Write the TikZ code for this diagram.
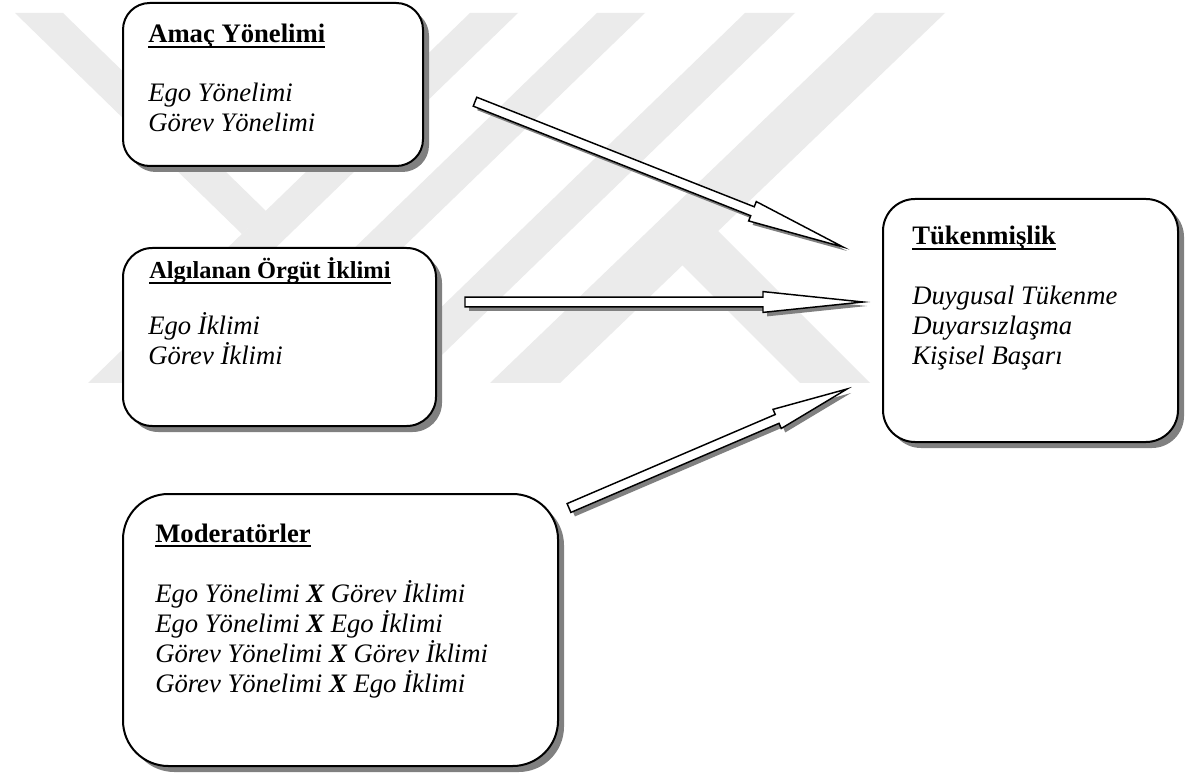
\documentclass[tikz,border=0pt]{standalone}
\usepackage{fontspec}
\setmainfont{Liberation Serif}
\usetikzlibrary{calc,shadows}

\definecolor{wmgray}{HTML}{EBEBEB}
\definecolor{shadowgray}{HTML}{808080}
\newcommand\undl[1]{\setbox0\hbox{#1}\rlap{\vrule height -2pt depth 3.4pt width \wd0}\box0}

\def\shaftw{3.6pt}
\def\headw{7.8pt}
\newcommand\blockarrow[3]{%
  \foreach \sty/\sh in {arrowshadow/3pt, arrowbody/0pt}
    \path[\sty, transform canvas={shift={(\sh,-\sh)}}]
      ($(#1)!\shaftw!90:(#2)$)
      -- ($(#2)!#3!(#1)!\shaftw!-90:(#1)$)
      -- ($(#2)!#3!(#1)!\headw!-90:(#1)$)
      -- (#2)
      -- ($(#2)!#3!(#1)!\headw!90:(#1)$)
      -- ($(#2)!#3!(#1)!\shaftw!90:(#1)$)
      -- ($(#1)!\shaftw!-90:(#2)$) -- cycle;
}

\tikzset{
  box/.style={draw, line width=1.5pt, fill=white, rounded corners=#1, anchor=north west,
    drop shadow={shadow xshift=4.5pt, shadow yshift=-4.5pt, fill=shadowgray, opacity=1}},
  ttl/.style={font=\fontsize{20}{22.5}\selectfont\bfseries, inner sep=0pt, anchor=base west},
  itm/.style={font=\fontsize{20}{22.5}\selectfont\itshape, inner sep=0pt, anchor=base west},
  arrowbody/.style={draw, fill=white, line width=1.1pt, line join=miter},
  arrowshadow/.style={fill=shadowgray}
}

\begin{document}
\begin{tikzpicture}[x=0.75pt,y=-0.75pt]
\useasboundingbox[fill=white] (0,0) rectangle (1192,773);

\fill[wmgray] (15,13) -- (63,13) -- (266,211) -- (242,234) -- cycle;
\fill[wmgray] (88,383) -- (136,383) -- (518,13) -- (470,13) -- cycle;
\fill[wmgray] (215,383) -- (263,383) -- (645,13) -- (597,13) -- cycle;
\fill[wmgray] (363,383) -- (413,383) -- (795,13) -- (745,13) -- cycle;
\fill[wmgray] (490,383) -- (560,383) -- (945,13) -- (875,13) -- cycle;
\fill[wmgray] (800,383) -- (870,383) -- (684,197) -- (682,265) -- cycle;

\node[box=20pt, minimum width=225pt, minimum height=122.25pt] (amac) at (122,2) {};
\node[box=22pt, minimum width=234.75pt, minimum height=133.5pt] (iklim) at (122,247) {};
\node[box=24pt, minimum width=221.25pt, minimum height=182.25pt] (tuken) at (882,198) {};
\node[box=34pt, minimum width=326.25pt, minimum height=204pt] (moder) at (122,493) {};

\node[ttl] (amacT) at (148,43) {\undl{Amaç Yönelimi}};
\foreach \txt [count=\i] in {Ego Yönelimi, Görev Yönelimi}
  \node[itm] (amac\i) at (148,72+30*\i) {\txt};

\node[ttl, font=\fontsize{18.3}{21}\selectfont\bfseries] (iklimT) at (149,279) {\undl{Algılanan Örgüt İklimi}};
\foreach \txt [count=\i] in {Ego İklimi, Görev İklimi}
  \node[itm] (iklim\i) at (148,305+30*\i) {\txt};

\node[ttl] (tukenT) at (912,245) {\undl{Tükenmişlik}};
\foreach \txt [count=\i] in {Duygusal Tükenme, Duyarsızlaşma, Kişisel Başarı}
  \node[itm] (tuken\i) at (912,275+30*\i) {\txt};

\node[ttl] (moderT) at (155,542) {\undl{Moderatörler}};
\foreach \txt [count=\i] in {Ego Yönelimi \textbf{X} Görev İklimi, Ego Yönelimi \textbf{X} Ego İklimi,
    Görev Yönelimi \textbf{X} Görev İklimi, Görev Yönelimi \textbf{X} Ego İklimi}
  \node[itm] (moder\i) at (155,572+30*\i) {\txt};

\coordinate (a1tail) at (475,101.7);
\coordinate (a1tip) at (843,247);
\coordinate (a2tail) at (465,302);
\coordinate (a2tip) at (863,302);
\coordinate (a3tail) at (569,508);
\coordinate (a3tip) at (847,389);

\blockarrow{a1tail}{a1tip}{73pt}
\blockarrow{a2tail}{a2tip}{75pt}
\blockarrow{a3tail}{a3tip}{57pt}
\end{tikzpicture}
\end{document}
